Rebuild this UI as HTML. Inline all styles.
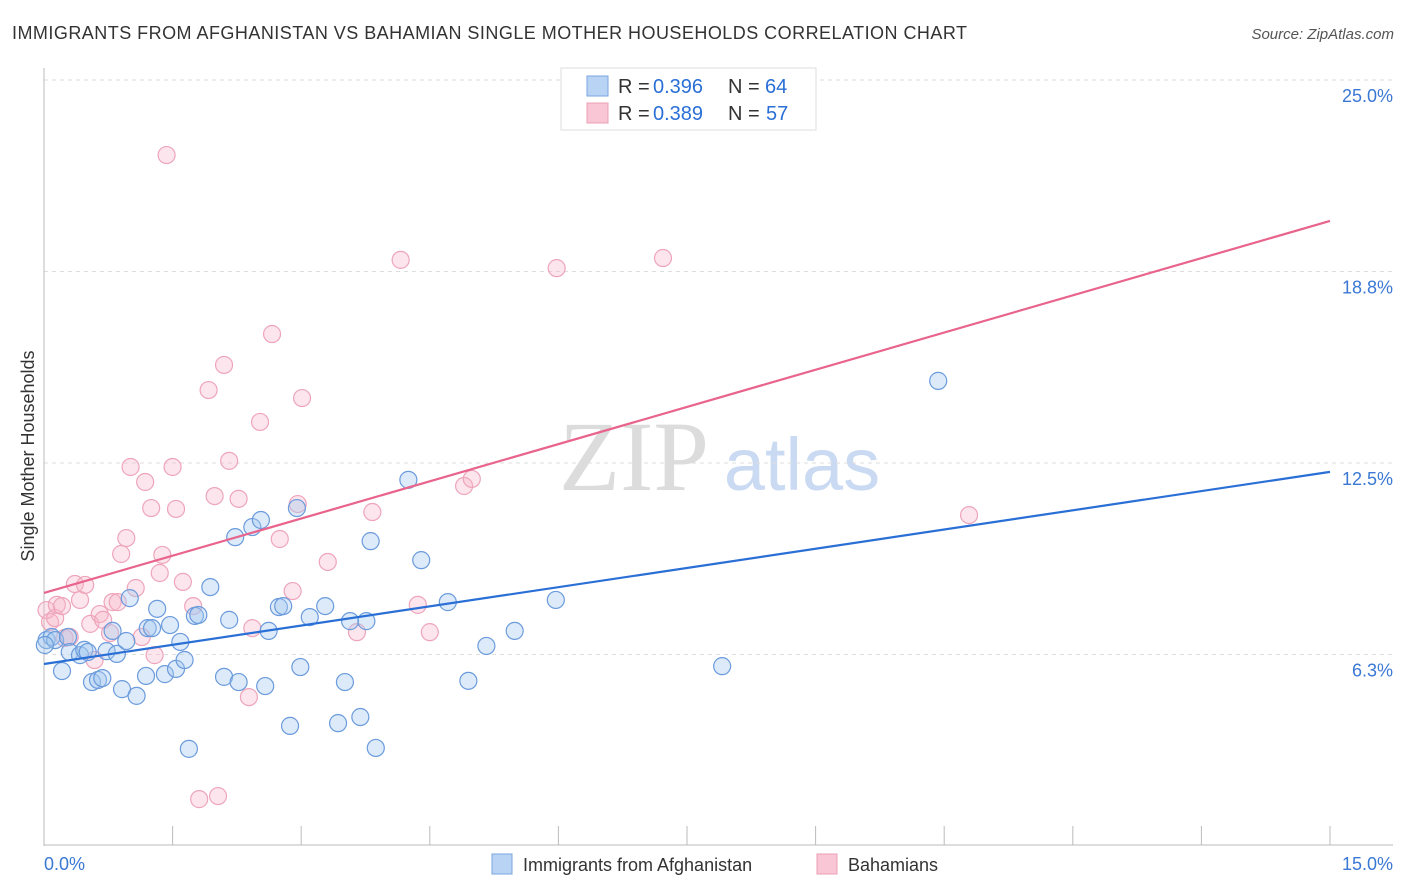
<!DOCTYPE html>
<html><head><meta charset="utf-8"><style>
body{margin:0;background:#fff;font-family:"Liberation Sans",sans-serif}
svg{display:block}
</style></head><body>
<svg width="1406" height="892" viewBox="0 0 1406 892" xmlns="http://www.w3.org/2000/svg">
<text x="12" y="39" font-size="18" fill="#333" textLength="955" lengthAdjust="spacing">IMMIGRANTS FROM AFGHANISTAN VS BAHAMIAN SINGLE MOTHER HOUSEHOLDS CORRELATION CHART</text>
<text x="1394" y="39" font-size="15" fill="#555" text-anchor="end" font-style="italic">Source: ZipAtlas.com</text>
<g>
<text x="634" y="490" font-size="100" font-family="Liberation Serif,serif" fill="#dcdcdc" text-anchor="middle">ZIP</text>
<text x="802" y="490" font-size="74" fill="#c9daf2" text-anchor="middle">atlas</text>
</g>
<g id="grid"></g>
<g id="axes"></g>
<g id="pts"></g>
<g id="lines"></g>
<text transform="translate(34,456) rotate(-90)" font-size="18" fill="#333" text-anchor="middle">Single Mother Households</text>
<g>
<rect x="561" y="68" width="255" height="62" fill="#fff" stroke="#ddd"/>
<rect x="587" y="76" width="21" height="20" fill="#b9d3f5" stroke="#7aa6e0"/>
<rect x="587" y="103" width="21" height="20" fill="#f9c6d5" stroke="#ec9fb6"/>
<text x="618" y="93" font-size="20" fill="#333">R =</text>
<text x="653" y="93" font-size="20" fill="#2a6fd6">0.396</text>
<text x="728" y="93" font-size="20" fill="#333">N =</text>
<text x="765" y="93" font-size="20" fill="#2a6fd6">64</text>
<text x="618" y="120" font-size="20" fill="#333">R =</text>
<text x="653" y="120" font-size="20" fill="#2a6fd6">0.389</text>
<text x="728" y="120" font-size="20" fill="#333">N =</text>
<text x="766" y="120" font-size="20" fill="#2a6fd6">57</text>
</g>
<g>
<rect x="492" y="854" width="20" height="20" fill="#b9d3f5" stroke="#7aa6e0"/>
<text x="523" y="871" font-size="18" fill="#333">Immigrants from Afghanistan</text>
<rect x="817" y="854" width="20" height="20" fill="#f9c6d5" stroke="#ec9fb6"/>
<text x="848" y="871" font-size="18" fill="#333">Bahamians</text>
</g>
</svg>
<script>
const blueX=[0.03,0.09,0.13,0.21,0.28,0.30,0.42,0.47,0.51,0.56,0.63,0.68,0.73,0.80,0.85,0.91,0.96,1.00,1.08,1.19,1.21,1.26,1.32,1.41,1.47,1.54,1.59,1.64,1.69,1.76,1.80,1.94,2.10,2.16,2.23,2.27,2.43,2.53,2.58,2.62,2.74,2.79,2.87,2.95,2.99,3.10,3.28,3.43,3.51,3.57,3.69,3.76,3.81,3.87,4.25,4.40,4.71,4.95,5.16,5.49,5.97,7.91,10.43,0.01];
const blueY=[6.72,6.82,6.72,5.71,6.82,6.33,6.23,6.40,6.33,5.35,5.42,5.48,6.36,7.02,6.27,5.12,6.69,8.09,4.90,5.55,7.11,7.11,7.74,5.61,7.21,5.78,6.66,6.07,3.17,7.51,7.54,8.45,5.52,7.38,10.08,5.35,10.41,10.64,5.22,7.02,7.80,7.83,3.92,11.03,5.84,7.47,7.83,4.01,5.35,7.34,4.21,7.34,9.95,3.20,11.95,9.33,7.96,5.39,6.53,7.02,8.03,5.87,15.18,6.56];
const pinkX=[1.43,0.03,0.07,0.13,0.15,0.21,0.24,0.30,0.36,0.42,0.48,0.54,0.59,0.65,0.69,0.77,0.80,0.86,0.90,0.96,1.01,1.07,1.14,1.18,1.25,1.29,1.35,1.38,1.50,1.54,1.62,1.74,1.81,1.92,1.99,2.03,2.10,2.16,2.27,2.39,2.43,2.52,2.66,2.75,2.90,2.96,3.01,3.31,3.65,3.83,4.16,4.36,4.50,4.90,4.99,5.98,7.22,10.79];
const pinkY=[22.55,7.70,7.31,7.44,7.87,7.83,6.79,6.82,8.55,8.03,8.52,7.25,6.07,7.57,7.38,6.95,7.96,7.96,9.53,10.05,12.37,8.42,6.82,11.88,11.03,6.23,8.91,9.50,12.37,11.00,8.62,7.83,1.53,14.88,11.42,1.63,15.70,12.57,11.33,4.86,7.11,13.84,16.71,10.02,8.32,11.16,14.62,9.27,6.98,10.90,19.13,7.87,6.98,11.75,11.98,18.86,19.19,10.80];
const blueTrend=[5.94,12.21];
const pinkTrend=[8.26,20.4];
const yTicks=[6.25,12.5,18.75,25];
const yTickLabels=["6.3%","12.5%","18.8%","25.0%"];
const xTickLabels=["0.0%","15.0%"];
const NS="http://www.w3.org/2000/svg";
const sx=v=>44+v/15*1286, sy=v=>846-v/12.5*383;
function mk(t,a,p){const e=document.createElementNS(NS,t);for(const k in a)e.setAttribute(k,a[k]);p.appendChild(e);return e;}
const grid=document.getElementById('grid'),axes=document.getElementById('axes');
yTicks.forEach((t,i)=>{
 const l=mk('line',{x1:44,x2:1393,y1:sy(t),y2:sy(t),stroke:'#ddd','stroke-dasharray':'4,4'},grid);
 
 
 const tx=mk('text',{x:1393,y:sy(t)+22,'font-size':18,fill:'#3a78d4','text-anchor':'end'},axes);
 tx.textContent=yTickLabels[i];
 
 
});
const ya=mk('line',{x1:44,x2:44,y1:68,y2:846,stroke:'#bbb'},axes);


const xa=mk('line',{x1:44,x2:1393,y1:845,y2:845,stroke:'#bbb'},axes);


for(let i=0;i<=10;i++){const x=sx(i*1.5);const t=mk('line',{x1:x,x2:x,y1:826,y2:845,stroke:'#bbb'},axes);
 
 }
const x0=mk('text',{x:44,y:870,'font-size':18,fill:'#3a78d4'},axes);x0.textContent=xTickLabels[0];


const x1=mk('text',{x:1393,y:870,'font-size':18,fill:'#3a78d4','text-anchor':'end'},axes);x1.textContent=xTickLabels[1];


const pts=document.getElementById('pts');
pinkX.forEach((x,i)=>{const c=mk('circle',{cx:sx(x),cy:sy(pinkY[i]),r:8.5,fill:'rgba(246,180,200,0.35)',stroke:'#eea5bb','stroke-width':1.2},pts);
 
 });
blueX.forEach((x,i)=>{const c=mk('circle',{cx:sx(x),cy:sy(blueY[i]),r:8.5,fill:'rgba(164,199,240,0.38)',stroke:'#6b9bdc','stroke-width':1.2},pts);
 
 });
const lines=document.getElementById('lines');
const bl=mk('line',{x1:sx(0),x2:sx(15),y1:sy(blueTrend[0]),y2:sy(blueTrend[1]),stroke:'#2a6fd6','stroke-width':2.2},lines);


const pl=mk('line',{x1:sx(0),x2:sx(15),y1:sy(pinkTrend[0]),y2:sy(pinkTrend[1]),stroke:'#e8648c','stroke-width':2.2},lines);


</script>
</body></html>
